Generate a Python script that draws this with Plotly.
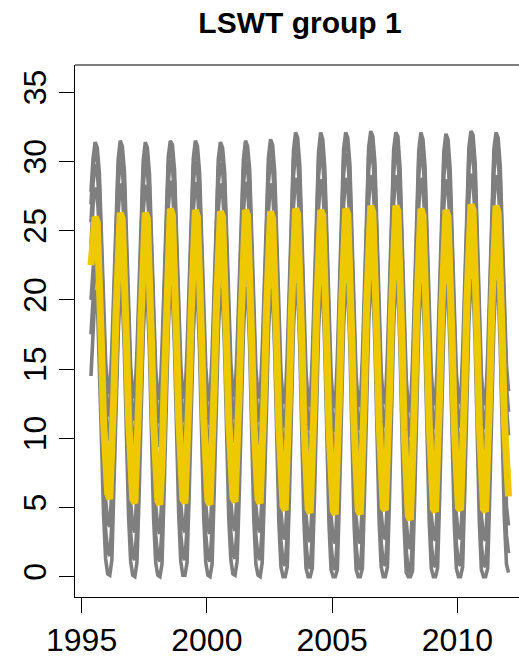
import pandas as pd
import plotly.graph_objects as go

# Monthly lake surface water temperature (deg C), May 1995 .. Jan 2012.
# One row per calendar year (first row starts in May, last row is January only).
MONTHS = pd.period_range("1995-05", "2012-01", freq="M")

LAKE_HOT = [
    [27.8, 30.2, 31.4, 31.0, 29.2, 24.9, 19.8, 15.6],
    [13.6, 13.2, 16.5, 21.4, 26.8, 30.1, 31.5, 31.1, 29.3, 25.0, 19.6, 15.2],
    [13.3, 12.9, 16.2, 21.1, 26.5, 30.0, 31.4, 31.0, 29.1, 24.7, 19.4, 15.0],
    [13.1, 12.8, 16.4, 21.6, 27.0, 30.3, 31.5, 31.2, 29.4, 25.1, 19.9, 15.3],
    [13.2, 12.9, 16.3, 21.3, 26.9, 30.2, 31.5, 31.1, 29.2, 24.8, 19.5, 15.1],
    [13.0, 12.7, 16.1, 21.5, 27.1, 30.2, 31.4, 31.0, 29.3, 24.9, 19.7, 15.4],
    [13.4, 13.0, 16.6, 21.4, 26.8, 30.1, 31.5, 31.1, 29.4, 25.0, 19.6, 15.0],
    [13.2, 12.9, 16.3, 21.2, 26.7, 30.3, 31.6, 31.2, 29.2, 24.6, 19.2, 14.7],
    [12.8, 12.5, 16.0, 21.3, 27.2, 30.8, 32.1, 31.7, 29.7, 25.0, 19.5, 14.8],
    [12.7, 12.3, 15.9, 21.1, 27.0, 30.7, 32.1, 31.6, 29.5, 24.7, 19.3, 14.6],
    [12.5, 12.2, 15.8, 21.4, 27.3, 30.9, 32.1, 31.7, 29.8, 24.9, 19.4, 14.5],
    [12.6, 12.3, 15.9, 21.6, 27.5, 31.0, 32.2, 31.8, 29.9, 25.2, 19.7, 14.8],
    [12.8, 12.5, 16.1, 21.5, 27.4, 30.9, 32.1, 31.8, 29.6, 24.8, 19.1, 14.3],
    [12.2, 11.9, 15.5, 21.0, 27.1, 30.8, 32.1, 31.6, 29.6, 25.0, 19.6, 14.7],
    [12.7, 12.4, 16.0, 21.3, 27.2, 30.7, 32.0, 31.6, 29.5, 24.9, 19.4, 14.7],
    [12.8, 12.5, 16.1, 21.7, 27.6, 31.0, 32.2, 31.9, 29.9, 25.3, 19.5, 14.6],
    [12.7, 12.4, 16.0, 21.6, 27.5, 30.9, 32.1, 31.7, 29.7, 25.1, 19.8, 15.3],
    [13.4],
]

LAKE_HOT2 = [
    [26.9, 29.5, 30.8, 30.4, 28.3, 23.8, 18.6, 14.2],
    [12.0, 11.6, 15.0, 20.1, 25.6, 29.4, 31.0, 30.5, 28.4, 23.9, 18.3, 13.8],
    [11.7, 11.3, 14.7, 19.8, 25.3, 29.3, 30.9, 30.4, 28.2, 23.6, 18.1, 13.6],
    [11.5, 11.1, 14.9, 20.3, 25.9, 29.6, 31.1, 30.6, 28.5, 24.0, 18.6, 13.9],
    [11.6, 11.2, 14.8, 20.0, 25.7, 29.5, 31.0, 30.5, 28.3, 23.7, 18.2, 13.7],
    [11.4, 11.0, 14.6, 20.2, 25.9, 29.5, 30.9, 30.4, 28.4, 23.8, 18.4, 14.0],
    [11.8, 11.4, 15.1, 20.1, 25.6, 29.4, 31.0, 30.6, 28.5, 23.9, 18.3, 13.5],
    [11.6, 11.2, 14.8, 19.9, 25.5, 29.6, 31.1, 30.6, 28.2, 23.4, 17.9, 13.2],
    [11.1, 10.8, 14.4, 19.9, 26.0, 30.1, 31.6, 31.1, 28.8, 23.9, 18.2, 13.3],
    [10.9, 10.6, 14.3, 19.7, 25.8, 30.0, 31.5, 31.0, 28.6, 23.6, 18.0, 13.1],
    [10.8, 10.5, 14.1, 20.0, 26.1, 30.2, 31.6, 31.1, 28.9, 23.8, 18.1, 13.0],
    [10.9, 10.6, 14.2, 20.2, 26.3, 30.4, 31.7, 31.2, 29.0, 24.1, 18.4, 13.3],
    [11.1, 10.8, 14.5, 20.1, 26.2, 30.3, 31.7, 31.2, 28.7, 23.7, 17.8, 12.8],
    [10.5, 10.1, 13.8, 19.6, 25.9, 30.1, 31.6, 31.0, 28.7, 23.9, 18.3, 13.2],
    [11.0, 10.7, 14.3, 19.9, 26.0, 30.0, 31.5, 31.0, 28.6, 23.8, 18.1, 13.2],
    [11.1, 10.8, 14.5, 20.3, 26.4, 30.4, 31.8, 31.3, 29.1, 24.2, 18.2, 13.1],
    [11.0, 10.7, 14.3, 20.2, 26.3, 30.3, 31.7, 31.2, 28.9, 24.0, 18.6, 13.8],
    [11.9],
]

LAKE_WARM = [
    [25.6, 28.4, 29.8, 29.3, 27.0, 22.4, 17.2, 12.6],
    [10.3, 9.8, 13.3, 18.6, 24.3, 28.3, 30.0, 29.5, 27.2, 22.5, 16.9, 12.3],
    [9.9, 9.5, 13.0, 18.3, 24.0, 28.2, 29.9, 29.4, 27.1, 22.2, 16.7, 12.1],
    [9.8, 9.4, 13.2, 18.7, 24.6, 28.5, 30.1, 29.7, 27.4, 22.7, 17.2, 12.4],
    [9.9, 9.5, 13.1, 18.5, 24.4, 28.4, 30.0, 29.6, 27.2, 22.4, 16.8, 12.2],
    [9.7, 9.3, 12.9, 18.8, 24.7, 28.4, 29.9, 29.5, 27.3, 22.5, 17.0, 12.5],
    [10.1, 9.7, 13.4, 18.6, 24.3, 28.3, 30.0, 29.6, 27.4, 22.6, 16.9, 12.0],
    [9.9, 9.5, 13.1, 18.4, 24.2, 28.5, 30.1, 29.7, 27.1, 22.1, 16.4, 11.7],
    [9.4, 9.0, 12.7, 18.4, 24.8, 29.0, 30.6, 30.2, 27.7, 22.6, 16.8, 11.8],
    [9.2, 8.8, 12.6, 18.2, 24.5, 28.9, 30.5, 30.1, 27.5, 22.3, 16.6, 11.6],
    [9.1, 8.7, 12.4, 18.5, 24.9, 29.1, 30.6, 30.2, 27.8, 22.5, 16.7, 11.5],
    [9.2, 8.8, 12.5, 18.7, 25.1, 29.3, 30.8, 30.3, 27.9, 22.8, 17.0, 11.8],
    [9.4, 9.0, 12.8, 18.6, 25.0, 29.2, 30.7, 30.3, 27.6, 22.4, 16.4, 11.2],
    [8.7, 8.3, 12.1, 18.1, 24.6, 29.0, 30.6, 30.1, 27.6, 22.6, 16.9, 11.7],
    [9.3, 8.9, 12.6, 18.4, 24.8, 28.9, 30.5, 30.0, 27.5, 22.5, 16.7, 11.7],
    [9.4, 9.0, 12.8, 18.9, 25.2, 29.3, 30.9, 30.4, 28.0, 22.9, 16.8, 11.6],
    [9.3, 8.9, 12.6, 18.8, 25.1, 29.2, 30.8, 30.3, 27.8, 22.7, 17.1, 12.3],
    [10.2],
]

LAKE_MILD = [
    [24.0, 26.8, 28.1, 27.7, 24.9, 19.8, 14.4, 10.1],
    [7.9, 7.5, 10.8, 16.0, 21.8, 26.2, 28.4, 27.9, 25.1, 20.0, 14.2, 9.8],
    [7.5, 7.1, 10.5, 15.7, 21.5, 26.3, 28.3, 27.8, 25.3, 19.8, 13.9, 9.6],
    [7.4, 7.0, 10.3, 16.1, 22.0, 26.6, 28.6, 28.1, 25.4, 20.2, 14.4, 9.7],
    [7.5, 7.1, 10.5, 15.9, 21.8, 26.4, 28.5, 28.0, 25.2, 20.0, 14.1, 9.6],
    [7.4, 7.0, 10.4, 16.2, 22.0, 26.5, 28.4, 27.9, 25.3, 19.7, 14.0, 9.8],
    [7.6, 7.2, 10.7, 16.0, 21.7, 26.3, 28.5, 28.1, 25.5, 19.9, 13.9, 9.5],
    [7.5, 7.1, 10.5, 15.8, 21.6, 26.4, 28.4, 27.9, 25.1, 19.6, 13.6, 9.1],
    [6.9, 6.6, 10.1, 15.7, 22.0, 26.8, 28.8, 28.3, 25.5, 19.8, 13.7, 8.9],
    [6.7, 6.4, 9.9, 15.6, 21.8, 26.6, 28.7, 28.2, 25.3, 19.5, 13.5, 8.8],
    [6.6, 6.3, 9.8, 15.8, 22.1, 26.9, 28.8, 28.3, 25.6, 19.7, 13.6, 8.7],
    [6.6, 6.3, 9.9, 16.0, 22.3, 27.1, 29.0, 28.5, 25.7, 20.0, 13.9, 9.0],
    [6.9, 6.6, 10.1, 15.9, 22.2, 27.0, 29.0, 28.6, 25.5, 19.6, 13.3, 8.4],
    [6.2, 5.9, 9.5, 15.5, 21.9, 26.8, 28.8, 28.3, 25.4, 19.8, 13.8, 8.9],
    [6.8, 6.5, 10.0, 15.8, 22.0, 26.7, 28.7, 28.2, 25.3, 19.7, 13.6, 8.9],
    [6.9, 6.6, 10.1, 16.1, 22.4, 27.2, 29.1, 28.7, 25.8, 20.1, 13.7, 8.8],
    [6.8, 6.5, 10.0, 16.0, 22.3, 27.1, 29.0, 28.5, 25.6, 19.9, 14.0, 9.5],
    [7.6],
]

LAKE_COOL = [
    [20.0, 22.6, 24.3, 23.8, 20.3, 14.8, 9.3, 5.6],
    [4.0, 3.6, 6.4, 11.2, 16.9, 21.6, 24.4, 23.9, 20.5, 15.0, 9.1, 5.4],
    [3.6, 3.2, 6.1, 10.9, 16.7, 21.7, 24.3, 23.8, 20.6, 14.8, 8.8, 5.2],
    [3.5, 3.1, 5.9, 11.3, 17.2, 22.0, 24.6, 24.1, 20.8, 15.2, 9.3, 5.3],
    [3.6, 3.2, 6.0, 11.1, 17.0, 21.8, 24.5, 24.0, 20.6, 15.0, 9.0, 5.2],
    [3.5, 3.1, 5.9, 11.4, 17.2, 21.9, 24.4, 23.9, 20.7, 14.7, 8.9, 5.4],
    [3.7, 3.3, 6.2, 11.2, 16.9, 21.7, 24.5, 24.1, 20.9, 14.9, 8.8, 5.1],
    [3.6, 3.2, 6.0, 11.0, 16.8, 21.8, 24.4, 23.9, 20.5, 14.6, 8.5, 4.7],
    [3.0, 2.7, 5.6, 10.9, 17.2, 22.2, 24.8, 24.3, 20.9, 14.8, 8.6, 4.5],
    [2.8, 2.5, 5.4, 10.8, 17.0, 22.0, 24.7, 24.2, 20.7, 14.5, 8.4, 4.4],
    [2.7, 2.4, 5.3, 11.0, 17.3, 22.3, 24.8, 24.3, 21.0, 14.7, 8.5, 4.3],
    [2.7, 2.4, 5.4, 11.2, 17.5, 22.5, 25.0, 24.5, 21.1, 15.0, 8.8, 4.6],
    [3.0, 2.7, 5.6, 11.1, 17.4, 22.4, 25.0, 24.6, 20.9, 14.6, 8.2, 4.0],
    [2.3, 2.0, 5.0, 10.7, 17.1, 22.2, 24.8, 24.3, 20.8, 14.8, 8.7, 4.5],
    [2.9, 2.6, 5.5, 11.0, 17.2, 22.1, 24.7, 24.2, 20.7, 14.7, 8.5, 4.5],
    [3.0, 2.7, 5.6, 11.3, 17.6, 22.6, 25.1, 24.7, 21.2, 15.1, 8.6, 4.4],
    [2.9, 2.6, 5.5, 11.2, 17.5, 22.5, 25.0, 24.5, 21.0, 14.9, 8.9, 5.1],
    [3.7],
]

LAKE_ICY = [
    [17.5, 20.6, 22.6, 22.1, 18.3, 12.6, 7.0, 3.4],
    [1.8, 1.5, 3.8, 8.6, 14.6, 19.6, 22.7, 22.2, 18.4, 12.7, 6.8, 3.2],
    [1.5, 1.2, 3.6, 8.3, 14.4, 19.7, 22.6, 22.1, 18.5, 12.5, 6.6, 3.0],
    [1.4, 1.1, 3.4, 8.7, 14.8, 20.0, 22.9, 22.4, 18.7, 12.9, 7.0, 3.1],
    [1.5, 1.2, 3.5, 8.5, 14.6, 19.8, 22.8, 22.3, 18.5, 12.7, 6.7, 3.0],
    [1.4, 1.1, 3.4, 8.8, 14.8, 19.9, 22.7, 22.2, 18.6, 12.4, 6.6, 3.2],
    [1.6, 1.3, 3.7, 8.6, 14.5, 19.7, 22.8, 22.4, 18.8, 12.6, 6.5, 2.9],
    [1.5, 1.2, 3.5, 8.4, 14.4, 19.8, 22.7, 22.2, 18.4, 12.3, 6.3, 2.6],
    [1.0, 0.8, 3.1, 8.3, 14.8, 20.2, 23.1, 22.6, 18.8, 12.5, 6.4, 2.4],
    [0.8, 0.6, 2.9, 8.2, 14.6, 20.0, 23.0, 22.5, 18.6, 12.2, 6.2, 2.3],
    [0.7, 0.5, 2.8, 8.4, 14.9, 20.3, 23.1, 22.6, 18.9, 12.4, 6.3, 2.2],
    [0.7, 0.5, 2.9, 8.6, 15.1, 20.5, 23.3, 22.8, 19.0, 12.7, 6.6, 2.5],
    [1.0, 0.8, 3.1, 8.5, 15.0, 20.4, 23.3, 22.9, 18.8, 12.3, 6.0, 1.9],
    [0.4, 0.3, 2.5, 8.1, 14.7, 20.2, 23.1, 22.6, 18.7, 12.5, 6.5, 2.4],
    [0.9, 0.7, 3.0, 8.4, 14.8, 20.1, 23.0, 22.5, 18.6, 12.4, 6.3, 2.4],
    [1.0, 0.8, 3.1, 8.7, 15.2, 20.6, 23.4, 23.0, 19.1, 12.8, 6.4, 2.3],
    [0.9, 0.7, 3.0, 8.6, 15.1, 20.5, 23.3, 22.8, 18.9, 12.6, 6.7, 3.0],
    [1.7],
]

LAKE_COLD = [
    [14.5, 18.2, 20.7, 20.2, 16.0, 10.1, 4.6, 1.3],
    [0.2, 0.1, 1.2, 5.8, 12.0, 17.4, 20.8, 20.3, 16.2, 10.2, 4.4, 1.1],
    [0.1, 0.0, 1.0, 5.6, 11.8, 17.5, 20.7, 20.2, 16.3, 10.0, 4.2, 1.0],
    [0.1, 0.0, 0.9, 6.0, 12.3, 17.8, 21.0, 20.5, 16.5, 10.4, 4.6, 1.1],
    [0.1, 0.1, 1.0, 5.8, 12.1, 17.6, 20.9, 20.4, 16.3, 10.2, 4.3, 1.0],
    [0.1, 0.0, 0.9, 6.1, 12.3, 17.7, 20.8, 20.3, 16.4, 9.9, 4.2, 1.2],
    [0.2, 0.1, 1.1, 5.9, 12.0, 17.5, 20.9, 20.5, 16.6, 10.1, 4.1, 0.9],
    [0.1, 0.0, 1.0, 5.7, 11.9, 17.6, 20.8, 20.3, 16.2, 9.8, 3.9, 0.7],
    [0.0, 0.0, 0.7, 5.6, 12.3, 18.0, 21.2, 20.7, 16.6, 10.0, 4.0, 0.6],
    [0.0, 0.0, 0.6, 5.5, 12.1, 17.8, 21.1, 20.6, 16.4, 9.7, 3.8, 0.5],
    [0.0, 0.0, 0.5, 5.7, 12.4, 18.1, 21.2, 20.7, 16.7, 9.9, 3.9, 0.5],
    [0.0, 0.0, 0.6, 5.9, 12.6, 18.3, 21.4, 20.9, 16.8, 10.2, 4.1, 0.7],
    [0.0, 0.0, 0.7, 5.8, 12.5, 18.2, 21.4, 21.0, 16.6, 9.8, 3.6, 0.3],
    [0.0, 0.0, 0.4, 5.4, 12.2, 18.0, 21.2, 20.7, 16.5, 10.0, 4.0, 0.6],
    [0.0, 0.0, 0.6, 5.7, 12.3, 17.9, 21.1, 20.6, 16.4, 9.9, 3.9, 0.6],
    [0.0, 0.0, 0.7, 6.0, 12.7, 18.4, 21.5, 21.1, 16.9, 10.3, 4.0, 0.5],
    [0.0, 0.0, 0.6, 5.9, 12.6, 18.3, 21.4, 20.9, 16.7, 10.1, 4.2, 0.9],
    [0.3],
]

# Group mean
GROUP_MEAN = [
    [22.5, 24.4, 26.0, 25.6, 22.1, 16.8, 11.3, 7.9],
    [6.0, 5.6, 8.7, 13.4, 19.0, 23.4, 26.3, 25.8, 22.3, 17.0, 11.5, 7.8],
    [5.6, 5.3, 8.4, 13.2, 18.8, 23.5, 26.3, 25.9, 22.5, 16.9, 11.2, 7.6],
    [5.5, 5.2, 8.1, 13.5, 19.3, 23.8, 26.6, 26.1, 22.6, 17.2, 11.6, 7.7],
    [5.6, 5.3, 8.3, 13.3, 19.1, 23.6, 26.5, 26.0, 22.4, 17.1, 11.4, 7.6],
    [5.5, 5.2, 8.2, 13.6, 19.2, 23.7, 26.4, 26.0, 22.5, 16.8, 11.3, 7.8],
    [5.7, 5.4, 8.5, 13.4, 19.0, 23.5, 26.5, 26.1, 22.7, 17.0, 11.2, 7.5],
    [5.6, 5.3, 8.3, 13.2, 18.9, 23.6, 26.4, 25.9, 22.3, 16.7, 10.9, 7.1],
    [5.1, 4.8, 7.9, 13.1, 19.2, 23.9, 26.6, 26.2, 22.6, 16.9, 11.0, 6.9],
    [4.9, 4.6, 7.8, 13.0, 19.0, 23.7, 26.5, 26.1, 22.4, 16.6, 10.8, 6.8],
    [4.8, 4.5, 7.6, 13.2, 19.3, 24.0, 26.6, 26.2, 22.7, 16.8, 10.9, 6.7],
    [4.8, 4.5, 7.7, 13.4, 19.5, 24.2, 26.8, 26.3, 22.8, 17.1, 11.2, 7.0],
    [5.0, 4.8, 7.9, 13.3, 19.4, 24.1, 26.8, 26.4, 22.6, 16.7, 10.6, 6.4],
    [4.4, 4.1, 7.3, 12.9, 19.1, 23.9, 26.6, 26.1, 22.5, 16.9, 11.1, 6.9],
    [4.9, 4.7, 7.8, 13.2, 19.2, 23.8, 26.5, 26.0, 22.4, 16.8, 10.9, 6.9],
    [5.0, 4.8, 7.9, 13.5, 19.6, 24.3, 26.9, 26.5, 22.9, 17.2, 11.0, 6.8],
    [4.9, 4.7, 7.8, 13.4, 19.5, 24.2, 26.8, 26.3, 22.7, 17.0, 11.3, 7.6],
    [5.8],
]

LAKES = [LAKE_HOT, LAKE_HOT2, LAKE_WARM, LAKE_MILD, LAKE_COOL, LAKE_ICY,
         LAKE_COLD]
X_TICKS = [1995, 2000, 2005, 2010]
Y_TICKS = [0, 5, 10, 15, 20, 25, 30, 35]
TITLE = "LSWT group 1"

# decimal year at mid-month
t = [p.year + (p.month - 0.5) / 12 for p in MONTHS]


def flat(rows):
    return [v for row in rows for v in row]


FONT = "Liberation Sans, Arial, sans-serif"
fig = go.Figure()
for lake in LAKES:
    fig.add_trace(go.Scatter(x=t, y=flat(lake), mode="lines",
                             line=dict(color="#7f7f7f", width=3.6),
                             hoverinfo="skip", showlegend=False))
fig.add_trace(go.Scatter(x=t, y=flat(GROUP_MEAN), mode="lines",
                         line=dict(color="#eec900", width=7),
                         showlegend=False))

axis_common = dict(showgrid=False, zeroline=False, showline=True,
                   linecolor="black", linewidth=1, ticks="outside",
                   ticklen=15, tickwidth=1, tickcolor="black",
                   tickfont=dict(family=FONT, size=32, color="black"))

fig.update_layout(
    width=519, height=657,
    margin=dict(l=75, r=0, t=65, b=60),
    paper_bgcolor="white", plot_bgcolor="white",
    title=dict(text=f"<b>{TITLE}</b>", x=300 / 519, xanchor="center",
               xref="container", yref="container", y=1 - 22 / 657,
               yanchor="middle",
               font=dict(family=FONT, size=30, color="black")),
    xaxis=dict(range=[1994.737, 2012.459], tickvals=X_TICKS, **axis_common),
    yaxis=dict(range=[-1.47, 36.97], tickvals=Y_TICKS, tickangle=-90,
               **axis_common),
    shapes=[dict(type="line", xref="paper", yref="paper", x0=0, x1=1,
                 y0=1, y1=1, line=dict(color="black", width=1))],
)

fig.write_html("out.html")
